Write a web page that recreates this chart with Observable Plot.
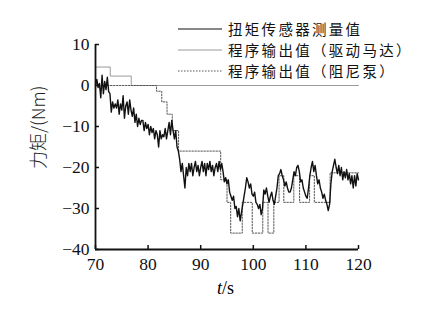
<!DOCTYPE html>
<html><head><meta charset="utf-8">
<script src="https://cdn.jsdelivr.net/npm/d3@7"></script>
<script src="https://cdn.jsdelivr.net/npm/@observablehq/plot@0.6"></script>
<style>
body{margin:0;background:#fff;}
#wrap{position:relative;width:443px;height:313px;font-family:"Liberation Serif",serif;}
#wrap svg g[aria-label="x-axis tick label"] text,
#wrap svg g[aria-label="y-axis tick label"] text{font-family:"Liberation Serif",serif;font-size:17.5px;}
.leg{position:absolute;left:178px;height:17px;font-size:14.5px;line-height:17px;color:#111;display:flex;align-items:center;white-space:nowrap;font-family:"Noto Sans CJK SC",sans-serif;font-weight:400;letter-spacing:2.3px;}
.leg span{display:inline-block;height:17px;line-height:17px;overflow:visible;}
.leg svg{margin-right:6px;}
#xl{position:absolute;left:0;width:443px;top:279px;height:18px;line-height:18px;text-align:center;font-size:18px;padding-left:4px;font-family:"Liberation Serif",serif;}
</style></head>
<body><div id="wrap"></div>
<script>
// sample grid of the measured torque
const tStart = 70, tStep = 0.25;
const measured = [
 0, 1.5, -0.5, 0.5,
 -3, 2.5, -2, 1,
 -1, 2, -1.5, -2,
 -6.5, -4, -5.5, -4.5,
 -5.5, -3.5, -7, -4.5,
 -6, -2.5, -8, -5,
 -4, -7, -3.5, -6,
 -7.5, -5.5, -9, -7,
 -10, -8, -9.5, -8.5,
 -8.5, -11, -9, -10.5,
 -9.5, -12, -10, -11.5,
 -10.5, -13, -11, -12,
 -15, -11, -13, -12,
 -12.5, -10.5, -13, -11,
 -9, -12, -8.5, -11,
 -13, -11, -15, -16,
 -18, -21, -19, -22,
 -25, -20, -22, -19,
 -21, -19, -22, -20,
 -18.5, -21, -19.5, -22,
 -20, -18.5, -21, -19,
 -22, -19, -20.5, -18.5,
 -21, -19.5, -22, -20,
 -19, -21, -18.5, -20.5,
 -19, -21, -23.5, -22.5,
 -24, -23, -26, -27,
 -28, -27, -30, -29.5,
 -32, -30, -33, -31,
 -29, -27, -25, -22.5,
 -23.5, -25, -24, -26.5,
 -27, -26, -28.5, -29,
 -30, -29, -31.5, -30,
 -25.5, -26.5, -25, -27,
 -28.5, -27, -26, -28,
 -29, -27, -25, -22,
 -21.5, -20.5, -22, -23,
 -24.5, -23.5, -25, -26,
 -26, -25, -23, -21,
 -22, -20, -19.5, -21,
 -23.5, -23, -25, -26,
 -27, -27.5, -25, -22,
 -20, -18.5, -21, -19.5,
 -22, -24, -23, -25,
 -26, -27.5, -26.5, -28,
 -29, -30.5, -29, -24,
 -21, -19.5, -18, -20,
 -21.5, -19.5, -22, -20,
 -23, -21, -22.5, -20.5,
 -23, -21.5, -24, -22,
 -25, -22, -24.5, -21.5,
 -23
];
const motorT = [70, 72.8, 76.8, 120];
const motorV = [4.5, 2.3, 0, 0];
const pumpT = [70, 81.6, 82.6, 83.6, 84.6, 85.8, 93.8, 95.0, 95.7, 97.9, 99.8, 101.8, 102.8, 103.9, 104.9, 105.8, 107.7, 108.8, 110.7, 111.6, 114.6, 120];
const pumpV = [0, -1.4, -4, -7, -11, -16, -23, -28.5, -36, -28.5, -36, -28.5, -36, -28.5, -22, -28.5, -22, -28.5, -22, -28.5, -21.3, -21.3];
const xTicks = [70, 80, 90, 100, 110, 120];
const yTicks = [10, 0, -10, -20, -30, -40];
const legendLabels = ["扭矩传感器测量值", "程序输出值（驱动马达）", "程序输出值（阻尼泵）"];
const yLabel = "力矩/(Nm)";

const meas = measured.map((v, i) => ({t: tStart + i * tStep, v}));
const motor = motorT.map((t, i) => ({t, v: motorV[i]}));
const pump = pumpT.map((t, i) => ({t, v: pumpV[i]}));

const chart = Plot.plot({
  width: 443, height: 313,
  marginLeft: 95, marginRight: 85, marginTop: 44, marginBottom: 64,
  x: {domain: [70, 120]},
  y: {domain: [-40, 10]},
  style: {fontFamily: "Liberation Serif, serif", fontSize: "17.5px", color: "#111", background: "transparent"},
  marks: [
    Plot.line(motor, {x: "t", y: "v", curve: "step-after", stroke: "#9a9a9a", strokeWidth: 1}),
    Plot.line(pump, {x: "t", y: "v", curve: "step-after", stroke: "#555", strokeWidth: 1, strokeDasharray: "1.5,1.5"}),
    Plot.line(meas, {x: "t", y: "v", stroke: "#111", strokeWidth: 1.4}),
    Plot.ruleX([70], {y1: -40, y2: 10, stroke: "#111", strokeWidth: 1.8}),
    Plot.ruleY([-40], {x1: 70, x2: 120, stroke: "#111", strokeWidth: 1.8}),
    Plot.axisX({ticks: xTicks, tickSize: -4, tickPadding: 12, label: null, strokeWidth: 1.5, fontSize: 17.5}),
    Plot.axisY({ticks: yTicks, tickSize: -4, tickPadding: 10, label: null, strokeWidth: 1.5, fontSize: 17.5}),
    Plot.text([yLabel], {frameAnchor: "left", dx: -56, dy: 22, rotate: -90, fontSize: 18, fontFamily: "Noto Sans CJK SC, sans-serif", fontWeight: 300, fill: "#222"})
  ]
});
const wrap = document.getElementById("wrap");
chart.style.position = "absolute"; chart.style.left = "0"; chart.style.top = "0";
wrap.appendChild(chart);

const styles = [
  {stroke: "#111", dash: null, w: 1.2},
  {stroke: "#9a9a9a", dash: null, w: 1},
  {stroke: "#555", dash: "1.5,1.5", w: 1}
];
const rowTop = [20, 41, 62];
legendLabels.forEach((lab, i) => {
  const d = document.createElement("div");
  d.className = "leg";
  d.style.top = rowTop[i] + "px";
  const s = styles[i];
  d.innerHTML = `<svg width="44" height="10"><line x1="0" x2="44" y1="5" y2="5" stroke="${s.stroke}" stroke-width="${s.w}" ${s.dash ? `stroke-dasharray="${s.dash}"` : ""}/></svg><span>${lab}</span>`;
  wrap.appendChild(d);
});
const xl = document.createElement("div");
xl.id = "xl";
xl.innerHTML = "<i>t</i>/s";
wrap.appendChild(xl);
</script>
</body></html>
